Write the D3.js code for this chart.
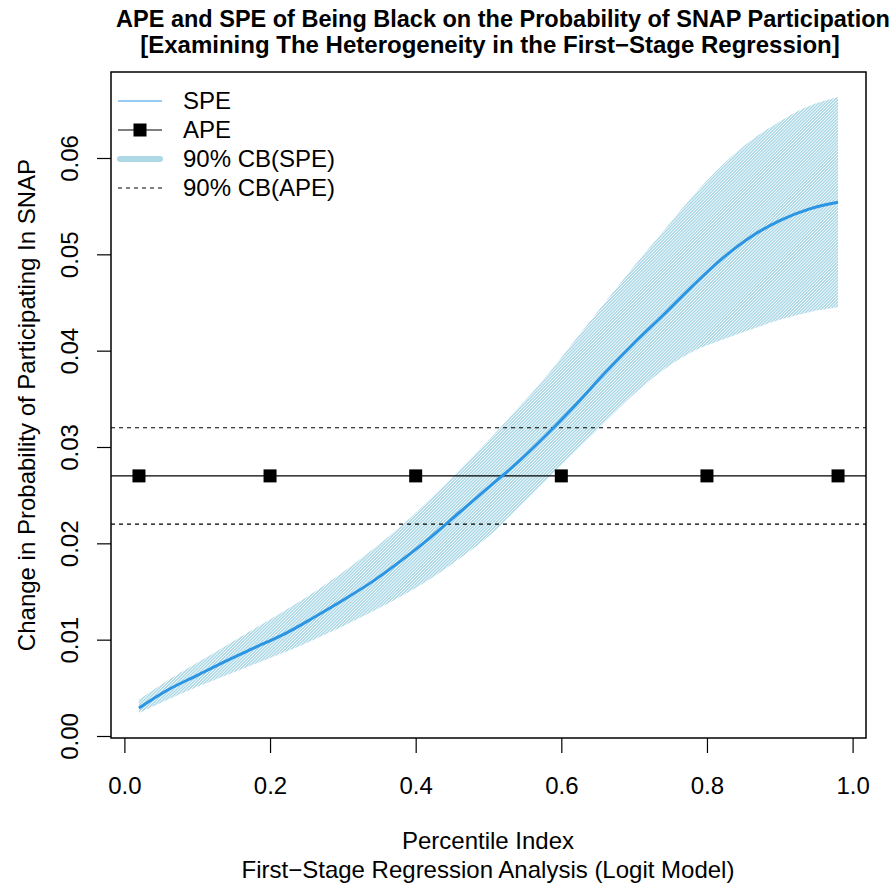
<!DOCTYPE html>
<html>
<head>
<meta charset="utf-8">
<script src="https://cdn.jsdelivr.net/npm/d3@7"></script>
<style>
  body { margin: 0; background: #fff; }
  svg { font-family: "Liberation Sans", Arial, sans-serif; }
</style>
</head>
<body>
<div class="chart"></div>
<script>
var svgWidth = 895;
var svgHeight = 886;

// plot box (R base graphics style)
var box = { left: 111, right: 866, top: 72, bottom: 738 };

// data
var pctIndex = [0.02, 0.06, 0.10, 0.14, 0.18, 0.22, 0.26, 0.30, 0.34, 0.38, 0.42, 0.46, 0.50,
  0.54, 0.58, 0.62, 0.66, 0.70, 0.74, 0.78, 0.82, 0.86, 0.90, 0.94, 0.98];
var spe = [0.0029, 0.0048, 0.0063, 0.0078, 0.0092, 0.0106, 0.0123, 0.0141, 0.0160, 0.0182,
  0.0206, 0.0232, 0.0258, 0.0284, 0.0313, 0.0344, 0.0377, 0.0408, 0.0437, 0.0467, 0.0495,
  0.0518, 0.0535, 0.0547, 0.0554];
var speUpper = [0.0038, 0.0058, 0.0076, 0.0094, 0.0112, 0.0130, 0.0149, 0.0170, 0.0193, 0.0218,
  0.0246, 0.0276, 0.0307, 0.0340, 0.0374, 0.0412, 0.0450, 0.0488, 0.0524, 0.0560, 0.0592,
  0.0618, 0.0638, 0.0654, 0.0663];
var speLower = [0.0024, 0.0038, 0.0051, 0.0063, 0.0075, 0.0087, 0.0100, 0.0114, 0.0129, 0.0145,
  0.0163, 0.0184, 0.0207, 0.0236, 0.0266, 0.0296, 0.0326, 0.0355, 0.0380, 0.0399, 0.0411,
  0.0422, 0.0432, 0.0440, 0.0445];

var apeValue = 0.027;
var apeBand = [0.022, 0.032];
var apeMarkers = [0.02, 0.2, 0.4, 0.6, 0.8, 0.98];

var xTicks = [0, 0.2, 0.4, 0.6, 0.8, 1.0];
var yTicks = [0, 0.01, 0.02, 0.03, 0.04, 0.05, 0.06];

var legendLabels = ["SPE", "APE", "90% CB(SPE)", "90% CB(APE)"];
var titleLines = [
  "APE and SPE of Being Black on the Probability of SNAP Participation",
  "[Examining The Heterogeneity in the First\u2212Stage Regression]"
];

var speColor = "#2b95e3";
var bandColor = "#add8e6";
var fontSize = 24;

var svg = d3.select(".chart")
  .append("svg")
  .attr("width", svgWidth)
  .attr("height", svgHeight);

// x: data 0.02..0.98 with R's 4% extension
var xScale = d3.scaleLinear()
  .domain([-0.0184, 1.0184])
  .range([box.left, box.right]);

// y: 0 at 736px, 0.06 at 158px
var yScale = d3.scaleLinear()
  .domain([0, 0.06])
  .range([736, 158]);

var defs = svg.append("defs");
var pattern = defs.append("pattern")
  .attr("id", "hatch")
  .attr("patternUnits", "userSpaceOnUse")
  .attr("width", 2.2)
  .attr("height", 2.2)
  .attr("patternTransform", "rotate(45)");
pattern.append("rect")
  .attr("x", 0).attr("y", 0)
  .attr("width", 1.5).attr("height", 2.2)
  .attr("fill", bandColor);

defs.append("clipPath").attr("id", "plotClip")
  .append("rect")
  .attr("x", box.left).attr("y", box.top)
  .attr("width", box.right - box.left).attr("height", box.bottom - box.top);

var plot = svg.append("g").attr("clip-path", "url(#plotClip)");

var bandData = pctIndex.map(function (d, i) {
  return { x: d, lo: speLower[i], hi: speUpper[i] };
});

// confidence band for SPE
plot.append("path")
  .datum(bandData)
  .attr("fill", "url(#hatch)")
  .attr("d", d3.area()
    .x(d => xScale(d.x))
    .y0(d => yScale(d.lo))
    .y1(d => yScale(d.hi))
    .curve(d3.curveMonotoneX));

// APE line and its band
plot.append("line")
  .attr("x1", box.left).attr("x2", box.right)
  .attr("y1", yScale(apeValue)).attr("y2", yScale(apeValue))
  .attr("stroke", "#000").attr("stroke-width", 1.2);

plot.selectAll(".apeband")
  .data(apeBand)
  .enter()
  .append("line")
  .attr("x1", box.left).attr("x2", box.right)
  .attr("y1", d => yScale(d)).attr("y2", d => yScale(d))
  .attr("stroke", "#000").attr("stroke-width", 1.2)
  .attr("stroke-dasharray", "4,4");

plot.selectAll(".apemark")
  .data(apeMarkers)
  .enter()
  .append("rect")
  .attr("x", d => xScale(d) - 6.5)
  .attr("y", yScale(apeValue) - 6.5)
  .attr("width", 13).attr("height", 13)
  .attr("fill", "#000");

// SPE curve
plot.append("path")
  .datum(pctIndex.map((d, i) => [d, spe[i]]))
  .attr("fill", "none")
  .attr("stroke", speColor)
  .attr("stroke-width", 3)
  .attr("d", d3.line()
    .x(d => xScale(d[0]))
    .y(d => yScale(d[1]))
    .curve(d3.curveMonotoneX));

// box
svg.append("rect")
  .attr("x", box.left).attr("y", box.top)
  .attr("width", box.right - box.left).attr("height", box.bottom - box.top)
  .attr("fill", "none").attr("stroke", "#000").attr("stroke-width", 1.5);

// axes
var bottomAxis = d3.axisBottom(xScale)
  .tickValues(xTicks)
  .tickSize(15)
  .tickPadding(24)
  .tickFormat(d3.format(".1f"));
var xAxis = svg.append("g")
  .attr("transform", `translate(0, ${box.bottom})`)
  .call(bottomAxis);
xAxis.select(".domain").remove();
xAxis.selectAll("line").attr("stroke", "#000").attr("stroke-width", 1.2);
xAxis.selectAll("text")
  .attr("font-size", fontSize)
  .attr("font-family", "Liberation Sans, Arial, sans-serif")
  .attr("fill", "#000");

var leftAxis = d3.axisLeft(yScale)
  .tickValues(yTicks)
  .tickSize(14)
  .tickFormat(d3.format(".2f"));
var yAxis = svg.append("g")
  .attr("transform", `translate(${box.left}, 0)`)
  .call(leftAxis);
yAxis.select(".domain").remove();
yAxis.selectAll("line").attr("stroke", "#000").attr("stroke-width", 1.2);
yAxis.selectAll("text")
  .attr("font-size", fontSize)
  .attr("font-family", "Liberation Sans, Arial, sans-serif")
  .attr("fill", "#000")
  .attr("text-anchor", "middle")
  .attr("x", null)
  .attr("dy", null)
  .attr("transform", "translate(-33, 0) rotate(-90)")
  .attr("y", 0);

// titles
svg.selectAll(".title")
  .data(titleLines)
  .enter()
  .append("text")
  .attr("class", "title")
  .attr("text-anchor", "middle")
  .attr("font-weight", "bold")
  .attr("font-size", (d, i) => i === 0 ? 23.5 : 24)
  .attr("x", (d, i) => i === 0 ? 503 : 490)
  .attr("y", (d, i) => i === 0 ? 27 : 53)
  .text(d => d);

svg.append("text")
  .attr("text-anchor", "middle")
  .attr("font-size", fontSize)
  .attr("x", 488).attr("y", 849)
  .text("Percentile Index");
svg.append("text")
  .attr("text-anchor", "middle")
  .attr("font-size", fontSize)
  .attr("x", 488).attr("y", 878)
  .text("First\u2212Stage Regression Analysis (Logit Model)");

svg.append("text")
  .attr("text-anchor", "middle")
  .attr("font-size", fontSize)
  .attr("transform", `translate(35, ${(box.top + box.bottom) / 2}) rotate(-90)`)
  .text("Change in Probability of Participating In SNAP");

// legend
var legend = svg.append("g");
var legY = d3.scalePoint().domain(legendLabels).range([101, 188]);
var lx1 = 118, lx2 = 162;

legend.append("line")
  .attr("x1", lx1).attr("x2", lx2)
  .attr("y1", legY("SPE")).attr("y2", legY("SPE"))
  .attr("stroke", speColor).attr("stroke-width", 1);

legend.append("line")
  .attr("x1", lx1).attr("x2", lx2)
  .attr("y1", legY("APE")).attr("y2", legY("APE"))
  .attr("stroke", "#000").attr("stroke-width", 1.2);
legend.append("rect")
  .attr("x", (lx1 + lx2) / 2 - 6.5).attr("y", legY("APE") - 6.5)
  .attr("width", 13).attr("height", 13).attr("fill", "#000");

legend.append("line")
  .attr("x1", lx1 + 2).attr("x2", lx2 - 2)
  .attr("y1", legY("90% CB(SPE)")).attr("y2", legY("90% CB(SPE)"))
  .attr("stroke", bandColor).attr("stroke-width", 6)
  .attr("stroke-linecap", "round");

legend.append("line")
  .attr("x1", lx1).attr("x2", lx2)
  .attr("y1", legY("90% CB(APE)")).attr("y2", legY("90% CB(APE)"))
  .attr("stroke", "#000").attr("stroke-width", 1)
  .attr("stroke-dasharray", "4,4");

legend.selectAll(".legtext")
  .data(legendLabels)
  .enter()
  .append("text")
  .attr("x", 183)
  .attr("y", d => legY(d))
  .attr("dy", "0.35em")
  .attr("font-size", fontSize)
  .text(d => d);
</script>
</body>
</html>
